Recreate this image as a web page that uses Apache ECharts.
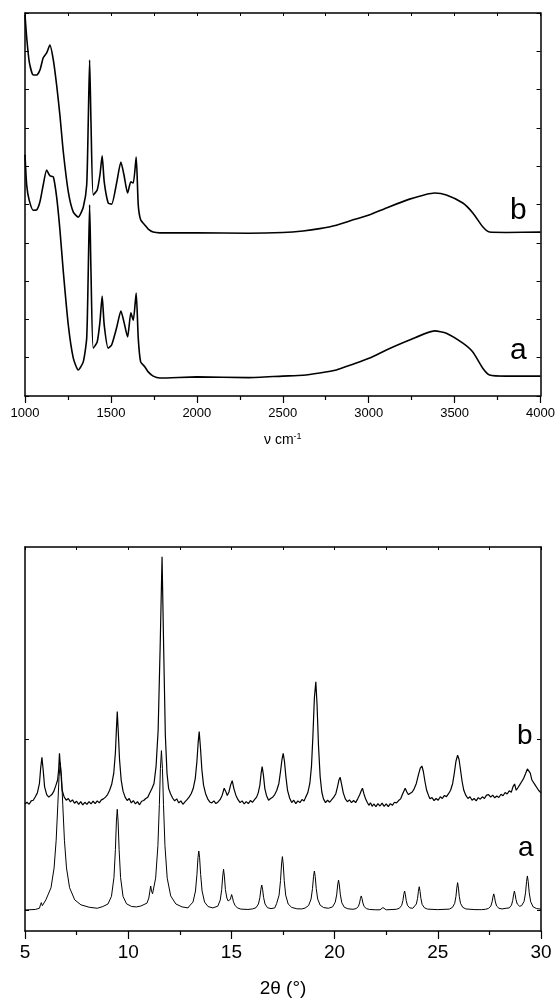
<!DOCTYPE html>
<html>
<head>
<meta charset="utf-8">
<script src="https://cdn.jsdelivr.net/npm/echarts@6.0.0/dist/echarts.min.js"></script>
<style>
  html, body { margin: 0; padding: 0; background: #fff; }
  #chart { width: 558px; height: 1004px; }
</style>
</head>
<body>
<div id="chart"></div>
<script>
// IR spectra (top panel), wavenumber in cm-1, arbitrary offset intensity
var irWave = [1000, 1010, 1025, 1048, 1068, 1087, 1106, 1126, 1145, 1165, 1184, 1203, 1223, 1252, 1281, 1310,
  1339, 1359, 1368, 1376, 1384, 1397, 1420, 1436, 1449, 1461, 1484, 1504, 1533, 1558, 1576, 1597, 1616, 1630,
  1647, 1659, 1673, 1698, 1717, 1746, 1785, 2000, 2300, 2500, 2618, 2715, 2812, 2909, 3006, 3103, 3238, 3384,
  3452, 3548, 3606, 3665, 3703, 3800, 4000];
var irB = [9.95, 9.35, 8.72, 8.38, 8.38, 8.51, 8.83, 8.96, 9.16, 8.77, 8.12, 7.34, 6.37, 5.33, 4.80, 4.67,
  4.93, 5.51, 7.15, 8.77, 7.15, 5.25, 5.38, 5.77, 6.27, 5.59, 5.04, 5.01, 5.56, 6.11, 5.77, 5.30, 5.59, 5.56,
  6.24, 4.99, 4.60, 4.46, 4.36, 4.28, 4.26, 4.26, 4.25, 4.27, 4.31, 4.37, 4.46, 4.60, 4.73, 4.91, 5.14, 5.30,
  5.25, 5.04, 4.78, 4.41, 4.28, 4.27, 4.28];
var irA = [6.30, 5.50, 5.10, 4.85, 4.86, 5.07, 5.51, 5.90, 5.75, 5.72, 5.20, 4.35, 3.24, 1.85, 0.99, 0.68,
  0.89, 1.51, 3.24, 4.99, 3.24, 1.25, 1.41, 1.93, 2.61, 1.85, 1.25, 1.33, 1.78, 2.22, 1.93, 1.54, 2.17, 1.98,
  2.69, 1.51, 0.89, 0.76, 0.63, 0.52, 0.47, 0.50, 0.48, 0.52, 0.54, 0.60, 0.68, 0.83, 0.99, 1.20, 1.46, 1.70,
  1.64, 1.38, 1.15, 0.72, 0.55, 0.52, 0.52];

// XRD pattern a (bottom panel): [2theta, intensity]
var xrdA = [
  [5.0, 0], [5.5, 0.03], [5.7, 0.1], [5.75, 0.3], [5.79, 0.43], [5.84, 0.25], [5.9, 0.28], [6.01, 0.59],
  [6.26, 1.30], [6.41, 2.46], [6.51, 4.08], [6.59, 6.15], [6.65, 7.8], [6.71, 8.6], [6.77, 7.8], [6.83, 6.15],
  [6.91, 4.08], [7.01, 2.46], [7.16, 1.30], [7.41, 0.59], [7.71, 0.30], [8.11, 0.16], [8.5, 0.1], [8.77, 0.2],
  [9.02, 0.35], [9.19, 0.8], [9.31, 1.9], [9.38, 3.53], [9.43, 5.2], [9.47, 5.89], [9.51, 5.2], [9.56, 3.53],
  [9.63, 1.9], [9.75, 0.79], [9.92, 0.36], [10.17, 0.2], [10.4, 0.18], [10.61, 0.23], [10.91, 0.4], [11.0, 0.7],
  [11.05, 1.1], [11.09, 1.4], [11.13, 1.1], [11.18, 0.95], [11.23, 1.05], [11.33, 1.86], [11.44, 3.77],
  [11.51, 6.17], [11.56, 8.26], [11.61, 9.32], [11.66, 8.26], [11.71, 6.17], [11.78, 3.77], [11.89, 1.86],
  [12.06, 0.82], [12.31, 0.35], [12.61, 0.18], [12.9, 0.12], [12.97, 0.24], [13.14, 0.46], [13.26, 1.11],
  [13.33, 2.07], [13.38, 3.05], [13.42, 3.45], [13.46, 3.05], [13.51, 2.07], [13.58, 1.11], [13.7, 0.46],
  [13.87, 0.2], [14.1, 0.12], [14.17, 0.12], [14.34, 0.22], [14.46, 0.58], [14.53, 1.19], [14.58, 1.98],
  [14.62, 2.38], [14.66, 1.98], [14.71, 1.19], [14.78, 0.7], [14.84, 0.53], [14.9, 0.52], [14.95, 0.62],
  [14.97, 0.72], [15.01, 0.9], [15.05, 0.75], [15.1, 0.48], [15.17, 0.28], [15.29, 0.12], [15.46, 0.05],
  [15.8, 0.03], [16.02, 0.06], [16.19, 0.13], [16.31, 0.35], [16.38, 0.73], [16.43, 1.22], [16.47, 1.46],
  [16.51, 1.22], [16.56, 0.73], [16.63, 0.35], [16.75, 0.13], [16.92, 0.08], [17.1, 0.12], [17.19, 0.37],
  [17.31, 0.87], [17.38, 1.72], [17.43, 2.69], [17.47, 3.12], [17.51, 2.69], [17.56, 1.72], [17.63, 0.87],
  [17.75, 0.35], [17.92, 0.15], [18.17, 0.07], [18.4, 0.06], [18.57, 0.11], [18.74, 0.26], [18.86, 0.64],
  [18.93, 1.26], [18.98, 1.97], [19.02, 2.28], [19.06, 1.97], [19.11, 1.26], [19.18, 0.64], [19.3, 0.28],
  [19.47, 0.14], [19.7, 0.1], [19.9, 0.18], [19.95, 0.22], [20.03, 0.45], [20.1, 0.88], [20.15, 1.46],
  [20.19, 1.75], [20.23, 1.46], [20.28, 0.88], [20.35, 0.42], [20.47, 0.16], [20.64, 0.07], [20.89, 0.04],
  [21.04, 0.08], [21.15, 0.2], [21.21, 0.41], [21.25, 0.66], [21.29, 0.82], [21.33, 0.66], [21.37, 0.41],
  [21.43, 0.2], [21.54, 0.08], [21.69, 0.03], [22.0, 0.01], [22.2, 0.01], [22.29, 0.06], [22.34, 0.14],
  [22.39, 0.06], [22.5, 0.01], [22.99, 0.04], [23.14, 0.1], [23.25, 0.27], [23.31, 0.55], [23.35, 0.89],
  [23.39, 1.11], [23.43, 0.89], [23.47, 0.55], [23.53, 0.27], [23.64, 0.12], [23.79, 0.1], [23.86, 0.15],
  [23.96, 0.35], [24.02, 0.68], [24.06, 1.09], [24.1, 1.36], [24.14, 1.09], [24.18, 0.68], [24.24, 0.33],
  [24.35, 0.13], [24.5, 0.05], [25.0, 0.02], [25.56, 0.05], [25.71, 0.15], [25.82, 0.39], [25.88, 0.8],
  [25.92, 1.28], [25.96, 1.6], [26.0, 1.28], [26.04, 0.8], [26.1, 0.39], [26.21, 0.15], [26.36, 0.06],
  [26.8, 0.02], [27.0, 0.02], [27.06, 0.07], [27.12, 0.02], [27.31, 0.04], [27.46, 0.09], [27.57, 0.23],
  [27.63, 0.47], [27.67, 0.75], [27.71, 0.94], [27.75, 0.75], [27.79, 0.47], [27.85, 0.23], [27.96, 0.1],
  [28.11, 0.06], [28.31, 0.1], [28.46, 0.12], [28.57, 0.28], [28.63, 0.56], [28.67, 0.88], [28.71, 1.1],
  [28.75, 0.9], [28.79, 0.6], [28.85, 0.35], [28.96, 0.22], [29.06, 0.25], [29.18, 0.5], [29.25, 1.0],
  [29.3, 1.66], [29.34, 1.99], [29.38, 1.66], [29.43, 1.0], [29.5, 0.48], [29.62, 0.18], [29.79, 0.08],
  [30.0, 0.05]
];

// XRD pattern b
var xrdAngleB = [5.0, 5.1, 5.2, 5.3, 5.4, 5.5, 5.6, 5.7, 5.76, 5.82, 5.88, 5.95, 6.05, 6.15, 6.2, 6.3, 6.4, 6.5,
  6.58, 6.63, 6.67, 6.72, 6.8, 6.9, 7.0, 7.1, 7.2, 7.3, 7.4, 7.5, 7.6, 7.7, 7.8, 7.9, 8.0, 8.1, 8.2, 8.3, 8.4,
  8.5, 8.6, 8.7, 8.8, 8.9, 9.0, 9.1, 9.2, 9.3, 9.38, 9.43, 9.47, 9.52, 9.58, 9.66, 9.75, 9.85, 9.95, 10.05,
  10.15, 10.25, 10.35, 10.45, 10.55, 10.65, 10.75, 10.85, 10.95, 11.05, 11.15, 11.25, 11.35, 11.45, 11.55,
  11.64, 11.72, 11.8, 11.88, 11.96, 12.05, 12.15, 12.25, 12.35, 12.45, 12.55, 12.65, 12.75, 12.85, 12.95,
  13.05, 13.15, 13.25, 13.33, 13.39, 13.44, 13.5, 13.57, 13.65, 13.75, 13.85, 13.95, 14.05, 14.15, 14.25,
  14.35, 14.45, 14.55, 14.65, 14.72, 14.8, 14.88, 14.96, 15.04, 15.12, 15.22, 15.32, 15.42, 15.52, 15.62,
  15.72, 15.82, 15.92, 16.02, 16.12, 16.22, 16.3, 16.38, 16.44, 16.49, 16.55, 16.62, 16.7, 16.8, 16.9, 17.0,
  17.1, 17.2, 17.3, 17.38, 17.45, 17.51, 17.57, 17.64, 17.72, 17.82, 17.92, 18.02, 18.12, 18.22, 18.32,
  18.42, 18.52, 18.6, 18.7, 18.8, 18.88, 18.95, 19.02, 19.09, 19.15, 19.22, 19.3, 19.38, 19.46, 19.56,
  19.66, 19.76, 19.86, 19.96, 20.06, 20.14, 20.21, 20.27, 20.33, 20.42, 20.52, 20.62, 20.72, 20.82, 20.92,
  21.02, 21.12, 21.22, 21.3, 21.35, 21.42, 21.5, 21.58, 21.66, 21.74, 21.82, 21.9, 22.0, 22.1, 22.2, 22.3,
  22.4, 22.5, 22.6, 22.7, 22.8, 22.9, 23.0, 23.1, 23.2, 23.3, 23.42, 23.5, 23.58, 23.66, 23.76, 23.86, 23.96,
  24.06, 24.15, 24.23, 24.3, 24.38, 24.46, 24.55, 24.62, 24.72, 24.82, 24.92, 25.02, 25.12, 25.22, 25.32,
  25.42, 25.52, 25.62, 25.72, 25.8, 25.88, 25.96, 26.03, 26.1, 26.18, 26.26, 26.36, 26.46, 26.56, 26.66,
  26.76, 26.86, 26.96, 27.06, 27.16, 27.26, 27.36, 27.46, 27.56, 27.66, 27.76, 27.86, 27.96, 28.06, 28.16,
  28.26, 28.36, 28.46, 28.56, 28.64, 28.72, 28.8, 28.88, 28.96, 29.06, 29.16, 29.26, 29.34, 29.41, 29.48,
  29.56, 29.64, 29.72, 29.8, 29.88, 29.95, 30.0];
var xrdIntB = [6.2, 6.3, 6.18, 6.38, 6.42, 6.62, 6.85, 7.4, 8.3, 8.93, 8.2, 7.2, 6.75, 6.6, 6.65, 6.75, 6.95, 7.3,
  7.6, 8.2, 9.16, 8.3, 7.0, 6.6, 6.42, 6.52, 6.32, 6.44, 6.24, 6.36, 6.18, 6.34, 6.15, 6.3, 6.18, 6.34, 6.2, 6.36, 6.22,
  6.38, 6.26, 6.44, 6.5, 6.6, 6.75, 7.0, 7.35, 8.0, 9.2, 10.6, 11.6, 10.4, 8.8, 7.6, 6.95, 6.6, 6.4, 6.52,
  6.26, 6.4, 6.2, 6.34, 6.15, 6.36, 6.4, 6.52, 6.6, 6.85, 7.1, 7.4, 8.4, 10.5, 15.5,
  20.66, 15.2, 10.2, 8.0, 7.1, 6.8, 6.55, 6.38, 6.5, 6.26, 6.38, 6.18, 6.32, 6.45, 6.6,
  6.8, 7.1, 7.7, 8.7, 9.8, 10.43, 9.5, 8.2, 7.3, 6.8, 6.5, 6.32, 6.26, 6.38, 6.22,
  6.32, 6.45, 6.7, 7.12, 6.95, 6.7, 6.9, 7.3, 7.56, 7.1, 6.7, 6.45, 6.28, 6.38, 6.2,
  6.34, 6.22, 6.4, 6.3, 6.45, 6.6, 6.85, 7.3, 8.0, 8.38, 7.9, 7.1, 6.7, 6.42, 6.52, 6.6,
  6.75, 7.0, 7.4, 8.1, 8.8, 9.16, 8.7, 7.8, 7.0, 6.55, 6.28, 6.42, 6.22, 6.38, 6.28,
  6.46, 6.38, 6.6, 6.85, 7.4, 8.4, 10.2, 12.4, 13.35, 12.0, 9.6, 7.8, 6.9, 6.5, 6.28,
  6.42, 6.3, 6.46, 6.6, 6.8, 7.2, 7.6, 7.76, 7.4, 6.85, 6.5, 6.33, 6.44, 6.28, 6.4,
  6.28, 6.5, 6.75, 7.0, 7.12, 6.8, 6.5, 6.3, 6.12, 6.27, 6.06, 6.2, 6.05, 6.22, 6.08, 6.25,
  6.06, 6.2, 6.04, 6.22, 6.12, 6.3, 6.26, 6.4, 6.5, 6.8, 7.12, 6.9, 6.75, 6.8, 6.9, 7.1, 7.4,
  7.9, 8.3, 8.42, 8.1, 7.5, 7.0, 6.7, 6.5, 6.57, 6.4, 6.52, 6.42, 6.62, 6.52, 6.7,
  6.63, 6.8, 7.0, 7.4, 8.0, 8.7, 9.06, 8.8, 8.2, 7.5, 7.0, 6.7, 6.52, 6.62, 6.42,
  6.52, 6.38, 6.57, 6.48, 6.62, 6.52, 6.72, 6.75, 6.6, 6.72, 6.56, 6.67, 6.58, 6.77, 6.68,
  6.87, 6.78, 6.97, 6.88, 7.2, 7.37, 7.0, 7.15, 7.3, 7.5, 7.7, 8.0, 8.25, 8.29, 8.0,
  7.6, 7.7, 7.3, 7.35, 7.0, 6.9, 6.85];

function pairs(xs, ys) {
  return xs.map(function (x, i) { return [x, ys[i]]; });
}

var chart = echarts.init(document.getElementById('chart'), null, { renderer: 'canvas' });
var FONT = '"Liberation Sans", Arial, sans-serif';
var axisLine = { show: true, onZero: false, lineStyle: { color: '#000', width: 1.5 } };

function frameAxis(base) {
  return Object.assign({
    type: 'value',
    axisLine: axisLine,
    splitLine: { show: false },
    minorSplitLine: { show: false },
    axisLabel: { show: false }
  }, base);
}

var option = {
  animation: false,
  backgroundColor: '#fff',
  textStyle: { fontFamily: FONT },
  grid: [
    { left: 25, right: 17, top: 13, height: 383 },
    { left: 25, right: 17, top: 547, height: 384 }
  ],
  xAxis: [
    frameAxis({
      gridIndex: 0, position: 'bottom', min: 1000, max: 4000, interval: 500,
      axisTick: { show: true, inside: false, length: 7, lineStyle: { color: '#000', width: 1.2 } },
      minorTick: { show: true, splitNumber: 2, length: 4, lineStyle: { color: '#000', width: 1.2 } },
      axisLabel: {
        show: true, color: '#000', fontSize: 13, fontFamily: FONT, margin: 11,
        formatter: function (v) { return String(v); }
      },
      name: 'ν cm{sup|-1}',
      nameLocation: 'middle',
      nameGap: 36,
      nameTextStyle: {
        color: '#000', fontSize: 14, fontFamily: FONT,
        rich: { sup: { fontSize: 9, verticalAlign: 'top', padding: [0, 0, 8, 0], fontFamily: FONT, color: '#000' } }
      }
    }),
    frameAxis({
      gridIndex: 0, position: 'top', min: 1000, max: 4000, interval: 250,
      axisTick: { show: true, inside: true, length: 3, lineStyle: { color: '#000', width: 1 } }
    }),
    frameAxis({
      gridIndex: 1, position: 'bottom', min: 5, max: 30, interval: 5,
      axisTick: { show: true, inside: false, length: 8, lineStyle: { color: '#000', width: 1.2 } },
      minorTick: { show: true, splitNumber: 2, length: 4, lineStyle: { color: '#000', width: 1.2 } },
      axisLabel: { show: true, color: '#000', fontSize: 19, fontFamily: FONT, margin: 12 },
      name: '2θ (°)',
      nameLocation: 'middle',
      nameGap: 48,
      nameTextStyle: { color: '#000', fontSize: 19, fontFamily: FONT }
    }),
    frameAxis({
      gridIndex: 1, position: 'top', min: 5, max: 30, interval: 2.5,
      axisTick: { show: true, inside: true, length: 3, lineStyle: { color: '#000', width: 1 } }
    })
  ],
  yAxis: [
    frameAxis({
      gridIndex: 0, position: 'left', min: 0, max: 10, interval: 1,
      axisTick: { show: true, inside: true, length: 4, lineStyle: { color: '#000', width: 1 } }
    }),
    frameAxis({
      gridIndex: 0, position: 'right', min: 0, max: 10, interval: 1,
      axisTick: { show: true, inside: true, length: 4, lineStyle: { color: '#000', width: 1 } }
    }),
    frameAxis({
      gridIndex: 1, position: 'left', min: -1.23, max: 21.23,
      axisTick: { show: true, inside: true, length: 4, customValues: [0, 10], lineStyle: { color: '#000', width: 1 } },
      axisLabel: { show: false, customValues: [0, 10] }
    }),
    frameAxis({
      gridIndex: 1, position: 'right', min: -1.23, max: 21.23,
      axisTick: { show: true, inside: true, length: 4, customValues: [0, 10], lineStyle: { color: '#000', width: 1 } },
      axisLabel: { show: false, customValues: [0, 10] }
    })
  ],
  series: [
    {
      name: 'IR b', type: 'line', xAxisIndex: 0, yAxisIndex: 0, data: pairs(irWave, irB),
      showSymbol: false, symbol: 'none', clip: true, smooth: 0.2,
      lineStyle: { color: '#000', width: 1.6 }
    },
    {
      name: 'IR a', type: 'line', xAxisIndex: 0, yAxisIndex: 0, data: pairs(irWave, irA),
      showSymbol: false, symbol: 'none', clip: true, smooth: 0.2,
      lineStyle: { color: '#000', width: 1.6 }
    },
    {
      name: 'XRD b', type: 'line', xAxisIndex: 2, yAxisIndex: 2, data: pairs(xrdAngleB, xrdIntB),
      showSymbol: false, symbol: 'none', clip: true,
      lineStyle: { color: '#000', width: 1.2 }
    },
    {
      name: 'XRD a', type: 'line', xAxisIndex: 2, yAxisIndex: 2, data: xrdA,
      showSymbol: false, symbol: 'none', clip: true,
      lineStyle: { color: '#000', width: 1 }
    }
  ],
  graphic: [
    { type: 'text', left: 510, top: 196, style: { text: 'b', fontSize: 30, fontFamily: FONT, fill: '#000' } },
    { type: 'text', left: 510, top: 336, style: { text: 'a', fontSize: 30, fontFamily: FONT, fill: '#000' } },
    { type: 'text', left: 517, top: 722, style: { text: 'b', fontSize: 28, fontFamily: FONT, fill: '#000' } },
    { type: 'text', left: 518, top: 834, style: { text: 'a', fontSize: 28, fontFamily: FONT, fill: '#000' } }
  ]
};

chart.setOption(option);
</script>
</body>
</html>
